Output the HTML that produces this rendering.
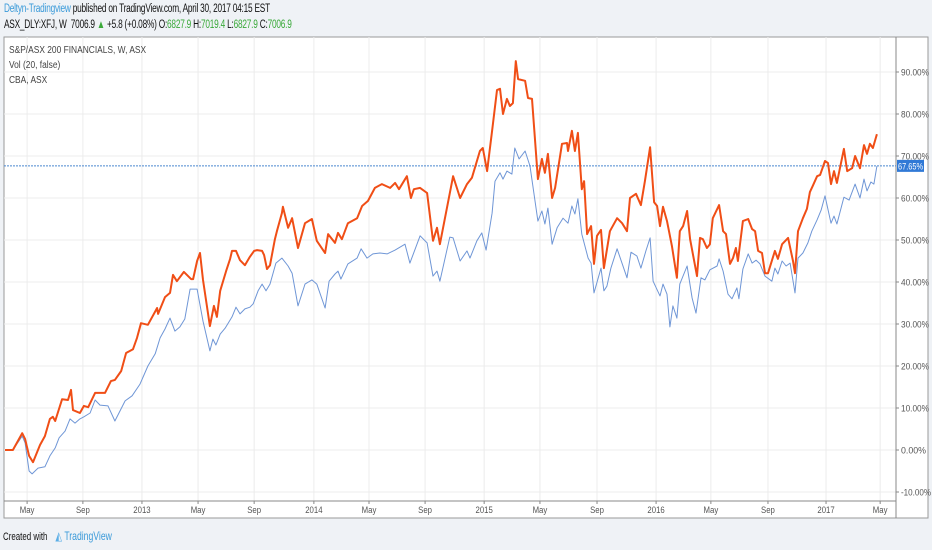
<!DOCTYPE html>
<html><head><meta charset="utf-8">
<style>
body{margin:0;width:932px;height:550px;background:#eff2f6;font-family:"Liberation Sans",sans-serif;overflow:hidden;position:relative}
.hdr{position:absolute;left:4px;font-size:11.5px;color:#111;letter-spacing:-0.3px;transform:scaleX(0.72);transform-origin:left;white-space:nowrap}
</style></head>
<body>
<div class="hdr" style="top:3px"><span style="color:#3a9ad9">Deltyn-Tradingview</span> published on TradingView.com, April 30, 2017 04:15 EST</div>
<div class="hdr" style="top:19px">ASX_DLY:XFJ, W&nbsp; 7006.9 <span style="color:#3aa93a">▲</span> +5.8 (+0.08%) O:<span style="color:#3aa93a">6827.9</span> H:<span style="color:#3aa93a">7019.4</span> L:<span style="color:#3aa93a">6827.9</span> C:<span style="color:#3aa93a">7006.9</span></div>
<svg id="chart" width="932" height="550" style="position:absolute;left:0;top:0"></svg>
<div style="position:absolute;left:3px;top:529px;font-size:11px;color:#111;transform:scaleX(0.72);transform-origin:left;white-space:nowrap">Created with <span style="color:#3a9ad9;font-size:12px;margin-left:8px"><span style="color:#5aaee6">◭</span> TradingView</span></div>
<script>
const weeksA=[0,2.4,5.2,6.1,7.3,8.5,10.6,12.1,13.6,14.5,15.2,17.3,19.1,20.0,20.6,22.7,23.9,25.2,27.3,30.3,32.1,33.3,35.2,36.7,38.8,40.0,41.2,43.3,46.1,46.4,48.5,50.0,50.9,52.1,54.2,56.4,57.0,58.2,59.1,60.0,62.1,63.3,64.2,65.2,67.0,68.2,68.8,70.0,71.2,72.7,74.2,75.5,76.4,77.9,78.5,79.4,80.3,81.8,82.4,83.9,84.2,85.8,87.0,88.8,90.9,93.0,94.5,97.0,97.9,100.0,100.9,102.1,103.9,106.7,108.2,110.0,112.1,114.2,116.7,118.2,119.4,121.8,123.0,123.9,125.8,127.9,129.7,130.9,131.8,135.8,137.9,140.0,141.5,143.9,144.8,146.1,147.6,149.1,150.0,150.9,152.1,153.0,153.9,154.8,155.5,157.6,158.5,159.7,161.5,162.7,163.6,164.5,165.8,166.7,168.8,170.3,170.6,171.8,172.7,173.6,174.8,175.5,176.4,177.6,178.5,179.4,180.6,181.5,183.3,185.5,187.0,188.5,189.4,191.2,192.7,193.9,195.5,196.7,197.6,198.5,199.4,200.6,202.1,203.6,204.5,205.5,206.7,207.6,209.7,210.6,211.5,212.7,213.6,214.5,216.4,217.6,218.5,219.7,220.6,221.5,222.1,223.6,225.2,226.4,227.3,228.2,229.4,230.3,231.2,233.3,234.2,235.5,237.3,238.8,239.4,240.3,241.8,243.0,243.9,244.8,246.1,247.0,248.5,249.4,250.3,251.2,252.1,254.2,255.2,256.7,257.6,259.1,260.3,261.2,262.1,263.0,264.2];
const valuesA=[0,0,4.0,2.6,-1.4,-2.9,1.2,3.3,7.4,7.9,6.9,12.1,11.9,14.3,9.5,8.8,10.5,10.2,13.6,13.6,16.4,16.7,18.8,23.1,24.0,26.7,30.2,29.8,33.8,32.4,36.4,37.4,41.7,40.2,42.4,40.7,40.7,45.0,46.9,40.5,29.5,34.3,31.7,37.9,42.6,45.5,47.4,47.4,45.2,44.0,46.0,47.4,47.6,47.4,46.4,43.1,44.0,50.2,52.1,56.4,57.9,52.9,55.2,48.1,54.0,55.0,49.8,46.9,51.4,49.3,51.7,50.2,54.0,55.2,58.1,59.3,62.4,63.3,62.4,63.6,62.1,65.2,60.0,62.1,62.4,61.2,49.8,52.9,49.0,65.2,60.0,63.3,64.8,71.2,71.9,66.4,76.0,85.7,86.0,80.0,83.6,81.9,82.6,92.6,88.3,87.9,83.8,83.6,64.5,69.3,66.0,70.5,60.0,62.4,72.9,73.1,71.2,76.0,71.2,75.5,62.1,64.0,51.4,53.3,44.3,51.0,52.4,43.3,52.1,55.2,54.0,52.1,60.0,61.0,58.3,64.0,72.1,59.0,58.1,53.3,57.9,54.5,48.6,41.0,52.1,53.3,56.9,50.2,41.4,50.5,50.2,48.1,49.0,55.2,58.3,52.1,51.4,44.3,45.7,48.1,45.0,54.5,55.0,52.6,52.1,47.4,46.9,42.1,42.1,47.4,45.5,49.0,50.5,45.0,42.1,52.1,55.2,57.4,61.4,62.9,65.2,65.5,68.8,68.3,63.3,66.4,63.6,71.7,66.4,67.1,70.0,67.1,72.6,70.5,72.9,71.9,75.2];
const weeksB=[0,2.4,5.2,6.1,7.3,8.2,10.0,12.1,13.6,15.2,16.4,18.2,19.7,21.2,22.7,23.9,25.8,27.3,28.8,31.2,33.3,36.4,38.5,40.9,43.3,45.5,47.0,48.5,50.0,51.5,53.0,54.5,56.1,58.2,60.0,62.1,63.0,63.9,65.2,66.7,68.8,70.0,71.2,72.7,74.2,75.2,76.7,77.9,79.1,80.3,82.1,83.9,85.8,87.0,88.8,90.9,93.0,94.5,97.0,98.2,100.0,100.9,101.8,103.9,106.7,107.9,109.7,111.5,113.6,115.8,118.2,121.2,122.7,125.8,127.9,129.7,130.9,131.8,134.8,135.8,137.9,140.0,140.9,143.0,144.5,145.8,147.6,148.5,150.0,150.9,152.1,153.6,154.5,155.8,157.6,159.1,161.5,162.7,163.6,164.5,165.8,167.3,169.1,170.6,171.8,172.7,173.6,174.8,176.7,177.6,178.5,180.6,181.5,182.4,183.6,185.5,188.5,189.7,191.5,192.7,194.2,195.5,196.4,198.5,199.4,200.6,201.5,202.4,203.6,204.5,206.7,208.2,209.4,210.9,212.1,213.6,215.8,216.4,217.6,219.1,220.3,221.8,222.4,223.6,225.2,226.4,227.6,228.8,230.3,232.4,233.3,234.2,235.5,236.7,237.9,239.4,240.3,241.8,243.3,244.5,246.1,247.3,248.5,250.3,251.2,252.1,254.2,255.8,257.6,259.1,260.3,261.2,262.4,263.3,264.2];
const valuesB=[0,0,3.3,1.7,-5.0,-5.7,-4.3,-4.0,-1.4,0.5,2.9,4.5,7.4,6.4,7.4,7.9,8.8,11.9,10.7,10.5,6.9,11.7,12.9,15.7,20.0,22.9,26.7,28.8,31.4,28.3,29.3,31.2,38.3,38.3,30.7,23.6,26.4,25.0,27.6,29.0,31.7,34.0,32.4,33.6,34.0,34.8,37.9,39.5,37.9,39.5,44.5,45.7,43.8,42.1,34.3,39.5,40.5,39.5,33.8,40.2,41.9,42.6,40.7,44.3,45.7,47.9,45.7,46.7,46.9,46.7,47.6,49.0,44.5,51.0,49.3,41.4,42.6,40.2,50.7,50.5,45.0,47.4,45.7,49.8,51.7,47.6,56.4,64.0,66.0,64.5,66.4,65.7,71.9,69.3,71.2,67.6,54.5,56.9,53.8,57.6,49.0,52.9,55.2,54.0,58.1,56.2,59.8,51.4,45.7,44.5,37.4,43.3,37.9,39.0,43.3,47.9,41.0,47.1,46.2,43.3,47.4,50.5,40.2,36.7,39.5,37.1,29.3,34.3,31.4,39.5,43.8,36.2,32.6,41.0,40.5,42.9,43.8,45.5,42.6,37.1,36.0,38.6,36.0,43.1,46.7,44.5,45.2,44.3,41.4,40.2,43.3,41.9,45.0,43.8,44.5,37.4,45.7,46.9,49.3,52.1,54.8,57.1,60.5,54.0,55.7,53.8,60.2,59.5,63.3,60.0,64.5,61.7,63.8,63.3,67.6];
const tickWeeks=[6.7,23.6,41.5,58.5,75.5,93.6,110.3,127.3,145.2,162.1,179.4,197.3,213.9,231.2,248.8,265.2];
const tickLabels=["May","Sep","2013","May","Sep","2014","May","Sep","2015","May","Sep","2016","May","Sep","2017","May"];
const yTicks=[-10,0,10,20,30,40,50,60,70,80,90];
const lastValue=67.65;

const NS='http://www.w3.org/2000/svg';
const svg=document.getElementById('chart');
const X=w=>5+w*3.3;
const Y=p=>450-p*4.2;
function mk(t,a,p){const e=document.createElementNS(NS,t);for(const k in a)e.setAttribute(k,a[k]);(p||svg).appendChild(e);return e;}
const L=4,R=896,T=37,B=501,OR=928,OB=518;
let bg=mk('rect',{x:L,y:T,width:OR-L,height:OB-T,fill:'#fff',stroke:'#9a9a9a','stroke-width':1});


const grid=mk('g',{});


yTicks.forEach(v=>{
  const l=mk('line',{x1:L,x2:R,y1:Y(v),y2:Y(v),stroke:'#ececec'},grid);
  
  
  const tk=mk('line',{x1:R,x2:R+3,y1:Y(v),y2:Y(v),stroke:'#888'});
  
  
  const t=mk('text',{x:R+5,y:Y(v)+3.5,'font-size':'9.5',fill:'#555',textLength:v<0?30:(v==0?25:28),lengthAdjust:'spacingAndGlyphs'});
  t.textContent=v.toFixed(2)+'%';
  
  
});
tickWeeks.forEach((w,i)=>{
  const l=mk('line',{x1:X(w),x2:X(w),y1:T,y2:B,stroke:'#ececec'},grid);
  
  
  const tk=mk('line',{x1:X(w),x2:X(w),y1:B,y2:B+3,stroke:'#888'});
  
  
  const t=mk('text',{x:X(w),y:B+12,'font-size':'9.5',fill:'#555','text-anchor':'middle',transform:`translate(${X(w)},0) scale(0.82,1) translate(${-X(w)},0)`});
  t.textContent=tickLabels[i];
  
  
});
const ax1=mk('line',{x1:R,x2:R,y1:T,y2:OB,stroke:'#888'});


const ax2=mk('line',{x1:L,x2:R,y1:B,y2:B,stroke:'#888'});


const hl=mk('line',{x1:L,x2:R,y1:Y(lastValue),y2:Y(lastValue),stroke:'#4a86cf','stroke-dasharray':'2,1','stroke-width':1});


function path(ws,vs,color,w,name){
  const d=ws.map((x,i)=>(i?'L':'M')+X(x).toFixed(1)+','+Y(vs[i]).toFixed(1)).join('');
  const p=mk('path',{d:d,fill:'none',stroke:color,'stroke-width':w,'stroke-linejoin':'round'});
  
  
}
path(weeksB,valuesB,'#6f96d6',1,'cba-series-line');
path(weeksA,valuesA,'#f04e16',2,'xfj-series-line');
const lb=mk('rect',{x:R+1,y:Y(lastValue)-6,width:27,height:12,fill:'#3079d6'});


const lt=mk('text',{x:R+2,y:Y(lastValue)+3.5,'font-size':'9.5',fill:'#fff',textLength:25,lengthAdjust:'spacingAndGlyphs'});
lt.textContent=lastValue.toFixed(2)+'%';


const leg=['S&P/ASX 200 FINANCIALS, W, ASX','Vol (20, false)','CBA, ASX'];
leg.forEach((s,i)=>{
  const t=mk('text',{x:9,y:53+i*15,'font-size':'10.5',fill:'#444',transform:'translate(9,0) scale(0.8,1) translate(-9,0)'});
  t.textContent=s;
  
  
});
</script>
</body></html>
